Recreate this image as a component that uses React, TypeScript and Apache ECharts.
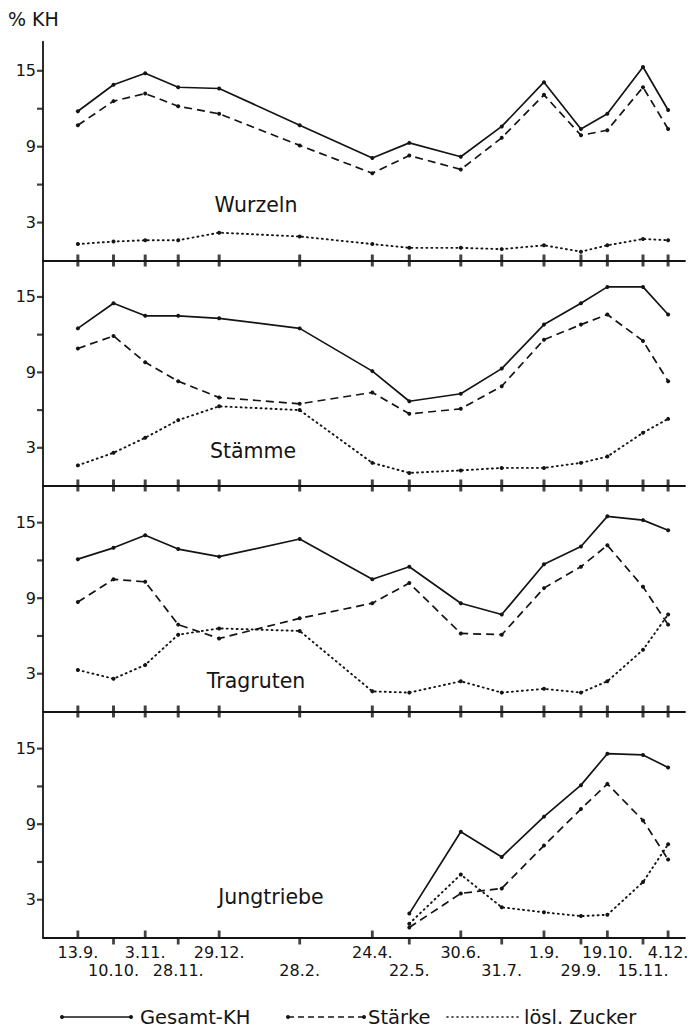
import React, { useEffect, useRef } from "react";
import * as echarts from "echarts";

// Sampling dates (labels) and their day offsets from 13.9.
const dateLabels = ["13.9.", "10.10.", "3.11.", "28.11.", "29.12.", "28.2.", "24.4.", "22.5.", "30.6.", "31.7.", "1.9.", "29.9.", "19.10.", "15.11.", "4.12."];
const dayOffsets = [0, 27, 51, 76, 107, 168, 223, 251, 290, 321, 353, 381, 401, 428, 447];

const panelNames = ["Wurzeln", "Stämme", "Tragruten", "Jungtriebe"];
const seriesNames = ["Gesamt-KH", "Stärke", "lösl. Zucker"];
const yTickValues = [3, 6, 9, 12, 15];
const yLabelValues = [3, 9, 15];

// Wurzeln
const wurzelnGesamt = [11.8, 13.9, 14.8, 13.7, 13.6, 10.7, 8.1, 9.3, 8.2, 10.6, 14.1, 10.4, 11.6, 15.3, 11.9];
const wurzelnStaerke = [10.7, 12.6, 13.2, 12.2, 11.6, 9.1, 6.9, 8.3, 7.2, 9.7, 13.1, 9.9, 10.3, 13.7, 10.4];
const wurzelnZucker = [1.3, 1.5, 1.6, 1.6, 2.2, 1.9, 1.3, 1.0, 1.0, 0.9, 1.2, 0.7, 1.2, 1.7, 1.6];
// Stämme
const staemmeGesamt = [12.5, 14.5, 13.5, 13.5, 13.3, 12.5, 9.1, 6.7, 7.3, 9.3, 12.8, 14.5, 15.8, 15.8, 13.6];
const staemmeStaerke = [10.9, 11.9, 9.8, 8.3, 7.0, 6.5, 7.4, 5.7, 6.1, 7.9, 11.6, 12.8, 13.6, 11.5, 8.3];
const staemmeZucker = [1.6, 2.6, 3.8, 5.2, 6.3, 6.0, 1.8, 1.0, 1.2, 1.4, 1.4, 1.8, 2.3, 4.2, 5.3];
// Tragruten
const tragrutenGesamt = [12.1, 13.0, 14.0, 12.9, 12.3, 13.7, 10.5, 11.5, 8.6, 7.7, 11.7, 13.1, 15.5, 15.2, 14.4];
const tragrutenStaerke = [8.7, 10.5, 10.3, 6.9, 5.8, 7.4, 8.6, 10.2, 6.2, 6.1, 9.8, 11.5, 13.2, 9.9, 6.9];
const tragrutenZucker = [3.3, 2.6, 3.7, 6.1, 6.6, 6.4, 1.6, 1.5, 2.4, 1.5, 1.8, 1.5, 2.4, 4.9, 7.7];
// Jungtriebe (from 22.5. on)
const jungtriebeGesamt = [null, null, null, null, null, null, null, 1.9, 8.4, 6.4, 9.6, 12.1, 14.6, 14.5, 13.5];
const jungtriebeStaerke = [null, null, null, null, null, null, null, 0.8, 3.5, 3.9, 7.3, 10.2, 12.2, 9.3, 6.2];
const jungtriebeZucker = [null, null, null, null, null, null, null, 1.1, 5.0, 2.4, 2.0, 1.7, 1.8, 4.4, 7.4];

const panelData = [
  [wurzelnGesamt, wurzelnStaerke, wurzelnZucker],
  [staemmeGesamt, staemmeStaerke, staemmeZucker],
  [tragrutenGesamt, tragrutenStaerke, tragrutenZucker],
  [jungtriebeGesamt, jungtriebeStaerke, jungtriebeZucker],
];

const FONT = "'DejaVu Sans', 'Liberation Sans', sans-serif";
const INK = "#141414";

export default function App() {
  const ref = useRef<HTMLDivElement>(null);

  useEffect(() => {
    document.body.style.margin = "0";
    const chart = echarts.init(ref.current!, undefined, { renderer: "svg" });

    const grids = [
      { top: 41.7, height: 218.8 },
      { top: 260.5, height: 225 },
      { top: 485.5, height: 226 },
      { top: 711.5, height: 226 },
    ];
    const yMax = [17.3, 17.9, 17.95, 17.95];
    const xMin = -26.4;
    const xMax = 459.8;
    const lastG = grids.length - 1;

    const row1Days = dayOffsets.filter((_, i) => i % 2 === 0);
    const row2Days = dayOffsets.filter((_, i) => i % 2 === 1);
    const labelFor = (v: number) => {
      const i = dayOffsets.indexOf(Math.round(v));
      return i >= 0 ? dateLabels[i] : "";
    };

    const xAxes: any[] = [];
    const primaryX: number[] = [];
    grids.forEach((_, g) => {
      const last = g === lastG;
      primaryX.push(xAxes.length);
      xAxes.push({
        type: "value",
        gridIndex: g,
        position: "bottom",
        min: xMin,
        max: xMax,
        axisLine: { show: true, onZero: false, lineStyle: { color: INK, width: 1.8 } },
        splitLine: { show: false },
        axisTick: { show: false },
        axisLabel: last
          ? {
              show: true,
              customValues: row1Days,
              formatter: labelFor,
              margin: 7,
              fontFamily: FONT,
              fontSize: 16,
              color: INK,
            }
          : { show: false },
      });
      if (last) {
        xAxes.push({
          type: "value",
          gridIndex: g,
          position: "bottom",
          min: xMin,
          max: xMax,
          axisLine: { show: false, onZero: false },
          splitLine: { show: false },
          axisTick: { show: false },
          axisLabel: {
            show: true,
            customValues: row2Days,
            formatter: labelFor,
            margin: 25,
            fontFamily: FONT,
            fontSize: 16,
            color: INK,
          },
        });
      }
    });

    const yAxes = grids.map((_, g) => ({
      type: "value",
      gridIndex: g,
      position: "left",
      min: 0,
      max: yMax[g],
      interval: 3,
      axisLine: { show: true, onZero: false, lineStyle: { color: INK, width: 1.8 } },
      splitLine: { show: false },
      axisTick: { show: false },
      axisLabel: {
        show: true,
        customValues: yLabelValues,
        margin: 7,
        fontFamily: FONT,
        fontSize: 16,
        color: INK,
      },
    }));

    const lineTypes: any[] = ["solid", [8, 5], [1, 4]];
    const series: any[] = [];
    panelData.forEach((sets, g) => {
      sets.forEach((vals, s) => {
        series.push({
          type: "line",
          name: seriesNames[s],
          xAxisIndex: primaryX[g],
          yAxisIndex: g,
          data: vals.map((v, i) => (v == null ? null : [dayOffsets[i], v])).filter((p) => p !== null),
          symbol: "circle",
          symbolSize: 4,
          showSymbol: true,
          itemStyle: { color: INK },
          lineStyle: { color: INK, width: s === 2 ? 1.9 : 1.7, type: lineTypes[s], cap: s === 2 ? "round" : "butt" },
          silent: true,
          z: 3,
        });
      });
    });

    // Axis tick marks at the sampling dates (crossing marks between panels)
    const tickSeries = (g: number, days: number[], size: number[], offset: number[]) => ({
      type: "scatter",
      xAxisIndex: primaryX[g],
      yAxisIndex: g,
      data: days.map((d) => [d, 0]),
      symbol: "rect",
      symbolSize: size,
      symbolOffset: offset,
      itemStyle: { color: INK },
      clip: false,
      silent: true,
      z: 4,
    });
    grids.forEach((_, g) => {
      if (g < lastG) {
        series.push(tickSeries(g, dayOffsets, [3, 12], [0, 0]));
      } else {
        series.push(tickSeries(g, row1Days, [2.8, 7], [0, -3.5]));
        series.push(tickSeries(g, row2Days, [2.8, 7], [0, 3.5]));
      }
      // y-axis ticks
      series.push({
        type: "scatter",
        xAxisIndex: primaryX[g],
        yAxisIndex: g,
        data: yTickValues.map((v) => [xMin, v]),
        symbol: "rect",
        symbolSize: [6, 2.2],
        symbolOffset: [-3, 0],
        itemStyle: { color: INK },
        clip: false,
        silent: true,
        z: 4,
      });
    });

    const panelLabelPos = [
      [256, 205],
      [253, 451],
      [256, 681],
      [271, 897],
    ];
    const graphic: any[] = [
      {
        type: "text",
        x: 8,
        y: 9,
        style: { text: "% KH", fontFamily: FONT, fontSize: 19, fill: INK },
      },
      ...panelNames.map((n, i) => ({
        type: "text",
        x: panelLabelPos[i][0],
        y: panelLabelPos[i][1],
        style: { text: n, fontFamily: FONT, fontSize: 20.5, fill: INK, align: "center", verticalAlign: "middle" },
      })),
    ];
    // legend
    const ly = 1017;
    const legendItems = [
      { x1: 62, x2: 131, dash: null as any, text: seriesNames[0], tx: 140, dots: true },
      { x1: 288, x2: 364, dash: [6, 4], text: seriesNames[1], tx: 368, dots: true },
      { x1: 447, x2: 520, dash: [1, 4], text: seriesNames[2], tx: 524, dots: false },
    ];
    legendItems.forEach((it) => {
      graphic.push({
        type: "line",
        shape: { x1: it.x1, y1: ly, x2: it.x2, y2: ly },
        style: { stroke: INK, lineWidth: 1.6, lineDash: it.dash, lineCap: it.dots ? "butt" : "round" },
      });
      if (it.dots) {
        graphic.push({ type: "circle", shape: { cx: it.x1, cy: ly, r: 2 }, style: { fill: INK } });
        graphic.push({ type: "circle", shape: { cx: it.x2, cy: ly, r: 2 }, style: { fill: INK } });
      }
      graphic.push({
        type: "text",
        x: it.tx,
        y: ly,
        style: { text: it.text, fontFamily: FONT, fontSize: 19.5, fill: INK, verticalAlign: "middle" },
      });
    });

    chart.setOption({
      animation: false,
      backgroundColor: "#ffffff",
      grid: grids.map((g) => ({ left: 43, right: 13, top: g.top, height: g.height })),
      xAxis: xAxes,
      yAxis: yAxes,
      series,
      graphic,
    });

    return () => chart.dispose();
  }, []);

  return <div ref={ref} style={{ width: 698, height: 1028 }} />;
}
